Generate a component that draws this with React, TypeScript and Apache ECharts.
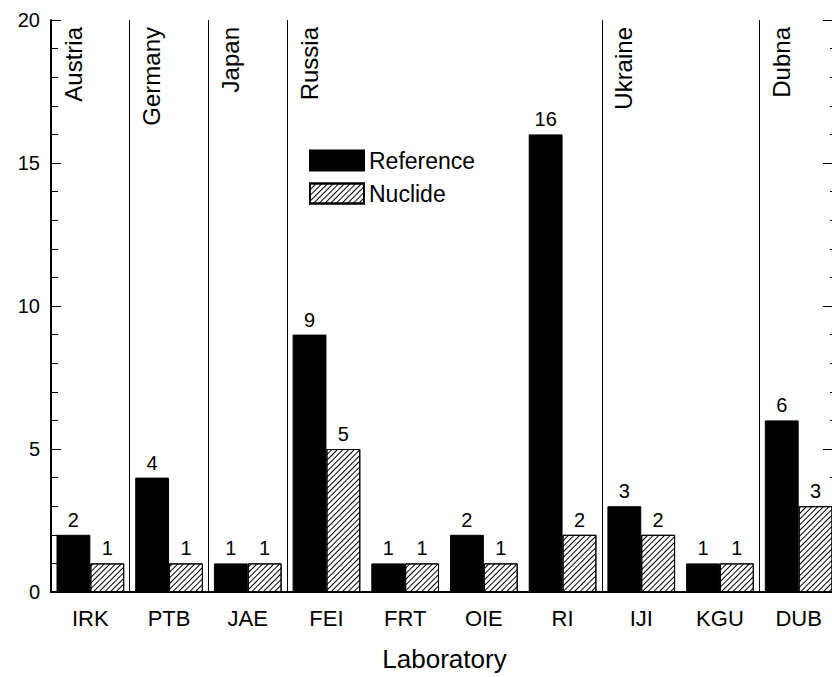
import React, { useEffect, useRef } from "react";
import * as echarts from "echarts";

const categories = ["IRK", "PTB", "JAE", "FEI", "FRT", "OIE", "RI", "IJI", "KGU", "DUB"];
const referenceValues = [2, 4, 1, 9, 1, 2, 16, 3, 1, 6];
const nuclideValues = [1, 1, 1, 5, 1, 1, 2, 2, 1, 3];
const countries = ["Austria", "Germany", "Japan", "Russia", "Ukraine", "Dubna"];
const countryStart = [0, 1, 2, 3, 7, 9];
const boundaries = [1, 2, 3, 7, 9];
const yTicks = [0, 5, 10, 15, 20];

const FONT = "'Liberation Sans', Arial, sans-serif";

export default function App() {
  const ref = useRef<HTMLDivElement>(null);
  useEffect(() => {
    document.body.style.margin = "0";
    document.body.style.overflow = "hidden";
    document.documentElement.style.overflow = "hidden";
    const chart = echarts.init(ref.current!, null, { renderer: "svg" });
    const hatch = {
      symbol: "rect",
      symbolSize: 1,
      color: "#000",
      backgroundColor: "#fff",
      dashArrayX: [1, 0],
      dashArrayY: [1, 3],
      rotation: -Math.PI / 4,
    };
    const option: any = {
      animation: false,
      textStyle: { fontFamily: FONT, color: "#000" },
      grid: { left: 51, right: 0, top: 20, bottom: 84 },
      legend: {
        orient: "vertical",
        left: 309,
        top: 149,
        padding: 0,
        itemWidth: 54,
        itemHeight: 20,
        itemGap: 10,
        icon: "rect",
        textStyle: { fontSize: 23, fontFamily: FONT, color: "#000" },
        data: ["Reference", "Nuclide"],
      },
      xAxis: [
        {
          type: "category",
          data: categories,
          position: "bottom",
          name: "Laboratory",
          nameLocation: "middle",
          nameGap: 54,
          nameTextStyle: { fontSize: 26, fontFamily: FONT, color: "#000" },
          axisLine: { lineStyle: { color: "#000", width: 2 } },
          axisTick: { inside: true, length: 5, lineStyle: { color: "#000" } },
          axisLabel: { fontSize: 22, margin: 15, color: "#000", fontFamily: FONT },
        },
        {
          type: "category",
          data: categories,
          position: "top",
          axisLine: { lineStyle: { color: "#000", width: 2 } },
          axisTick: { inside: true, length: 5, lineStyle: { color: "#000" } },
          axisLabel: { show: false },
        },
        {
          type: "value",
          min: 0,
          max: 10,
          show: false,
        },
      ],
      yAxis: [
        {
          type: "value",
          min: 0,
          max: 20,
          interval: 5,
          position: "left",
          axisLine: { show: true, lineStyle: { color: "#000", width: 2 } },
          axisTick: { show: true, inside: true, length: 10, lineStyle: { color: "#000" } },
          minorTick: { show: true, splitNumber: 5, length: 7, lineStyle: { color: "#000" } },
          splitLine: { show: false },
          axisLabel: {
            fontSize: 20,
            margin: 11,
            color: "#000",
            fontFamily: FONT,
            formatter: (v: number) => (yTicks.includes(v) ? String(v) : ""),
          },
        },
        {
          type: "value",
          min: 0,
          max: 20,
          interval: 5,
          position: "right",
          axisLine: { show: true, lineStyle: { color: "#000", width: 2 } },
          axisTick: { show: true, inside: true, length: 15, lineStyle: { color: "#000" } },
          minorTick: { show: true, splitNumber: 5, length: 8, lineStyle: { color: "#000" } },
          splitLine: { show: false },
          axisLabel: { show: false },
        },
      ],
      series: [
        {
          name: "Reference",
          type: "bar",
          xAxisIndex: 0,
          yAxisIndex: 0,
          data: referenceValues,
          barGap: "0%",
          barCategoryGap: "14%",
          itemStyle: { color: "#000", borderColor: "#000", borderWidth: 1 },
          label: { show: true, position: "top", distance: 5, fontSize: 20, color: "#000", fontFamily: FONT },
        },
        {
          name: "Nuclide",
          type: "bar",
          xAxisIndex: 0,
          yAxisIndex: 0,
          data: nuclideValues,
          barGap: "0%",
          barCategoryGap: "14%",
          itemStyle: { color: "#fff", borderColor: "#000", borderWidth: 1, decal: hatch },
          label: { show: true, position: "top", distance: 5, fontSize: 20, color: "#000", fontFamily: FONT },
        },
        {
          name: "separators",
          type: "scatter",
          xAxisIndex: 2,
          yAxisIndex: 0,
          data: [],
          silent: true,
          markLine: {
            silent: true,
            symbol: "none",
            label: { show: false },
            lineStyle: { color: "#000", width: 1, type: "solid" },
            data: boundaries.map((b) => ({ xAxis: b })),
          },
        },
      ],
    };
    chart.setOption(option);
    const top = chart.convertToPixel({ yAxisIndex: 0 }, 20) as number;
    const graphics = countries.map((name, i) => {
      const x = chart.convertToPixel({ xAxisIndex: 2 }, countryStart[i]) as number;
      return {
        type: "text",
        x: x + 22,
        y: top + 7,
        rotation: Math.PI / 2,
        style: {
          text: name,
          align: "right",
          verticalAlign: "middle",
          fontSize: 24,
          fontFamily: FONT,
          fill: "#000",
        },
      };
    });
    chart.setOption({ graphic: graphics });
    return () => chart.dispose();
  }, []);
  return <div ref={ref} style={{ position: "absolute", left: 0, top: 0, width: 838, height: 677 }} />;
}
